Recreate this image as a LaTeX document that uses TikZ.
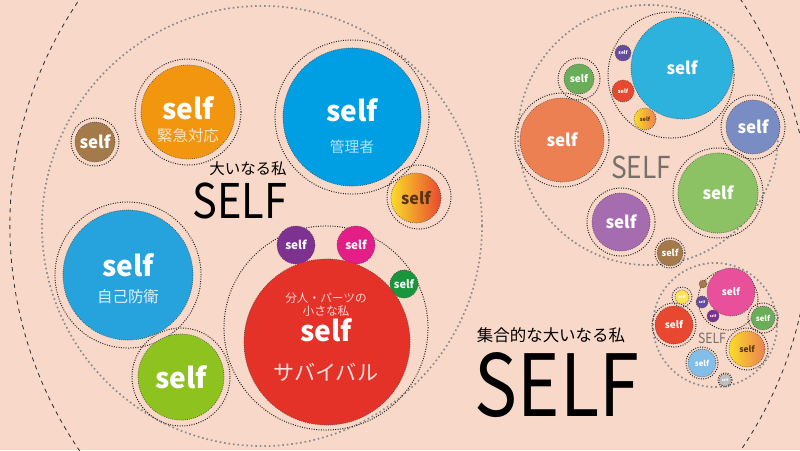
\documentclass[tikz,border=0pt]{standalone}
\usepackage{fontspec}
\setmainfont{Noto Sans CJK JP}
\usetikzlibrary{positioning}
\definecolor{bgpeach}{RGB}{248,216,200}
\definecolor{selfbrown}{RGB}{164,122,74}
\definecolor{selforange}{RGB}{242,150,15}
\definecolor{selfblue}{RGB}{0,158,226}
\definecolor{selfsky}{RGB}{38,163,220}
\definecolor{selfgreen}{RGB}{142,194,31}
\definecolor{selfred}{RGB}{228,50,40}
\definecolor{selfpurple}{RGB}{125,50,145}
\definecolor{selfpink}{RGB}{228,30,135}
\definecolor{selfdkgreen}{RGB}{25,150,60}
\definecolor{selfcyan}{RGB}{45,178,222}
\definecolor{selfcoral}{RGB}{236,128,82}
\definecolor{selfslate}{RGB}{122,140,196}
\definecolor{selfleaf}{RGB}{140,194,100}
\definecolor{selflilac}{RGB}{166,108,176}
\definecolor{selfmoss}{RGB}{106,174,90}
\definecolor{selfviolet}{RGB}{100,76,158}
\definecolor{selftomato}{RGB}{232,72,48}
\definecolor{selfrose}{RGB}{233,80,155}
\definecolor{selfbaby}{RGB}{130,190,232}
\definecolor{selflemon}{RGB}{250,220,40}
\definecolor{selfsilver}{RGB}{190,190,190}
\definecolor{textgray}{RGB}{118,112,108}
\definecolor{darktext}{RGB}{90,50,20}

\begin{document}
\begin{tikzpicture}[x=0.025cm, y=-0.025cm,
    rad/.style={minimum size=#1*0.05cm},
    ball/.style={circle, draw=black!70, densely dotted, line width=0.5pt,
                 inner sep=0pt, outer sep=0pt, text=white},
    ring/.style={circle, draw=black!85, densely dotted, line width=0.7pt,
                 inner sep=0pt},
    groupring/.style={circle, draw=black!45, dotted, line width=1.2pt,
                 inner sep=0pt},
    fs/.style={inner sep=0pt, font=\bfseries\fontsize{#1}{#1}\selectfont},
    jp/.style={inner sep=0pt, font=\fontsize{#1}{#1}\selectfont}]

    % background
    \fill[bgpeach] (0,0) rectangle (800,450);
    \useasboundingbox (0,0) rectangle (800,450);
    \clip (0,0) rectangle (800,450);

    % outer rim
    \node[circle, draw=black!80, dashed, line width=0.6pt, rad=400] (rim) at (410,225) {};

    % group rings
    \node[groupring, rad=220] (bigself) at (262,226) {};
    \node[groupring, rad=130] (upself) at (648,135) {};
    \node[groupring, rad=62] (lowself) at (715,325) {};

    % left group: rings
    \node[ring, rad=24] at (95,142) {};
    \node[ring, rad=53] at (188,112) {};
    \node[ring, rad=77] at (352,117) {};
    \node[ring, rad=32] at (419,197) {};
    \node[ring, rad=73] at (128,275) {};
    \node[ring, rad=49] at (181,377) {};
    \node[ring, rad=102] (partsring) at (326,328) {};

    % left group: balls
    \node[ball, rad=20, fill=selfbrown, fs=12] (brown) at (95,142) {self};
    \node[ball, rad=47, fill=selforange] (urgent) at (188,112) {};
    \node[fs=20, text=white] (urgentself) at (188,108) {self};
    \node[jp=11, text=white!75!selforange] (urgentname) at (188,136) {緊急対応};
    \node[ball, rad=69, fill=selfblue] (manager) at (352,117) {};
    \node[fs=20, text=white] (managerself) at (352,110) {self};
    \node[jp=10.5, text=white!70!selfblue] (managername) at (352,147) {管理者};
    \node[ball, rad=25, left color=selflemon, right color=selftomato, fs=11.5,
          text=darktext] (spark) at (416,198) {self};
    \node[ball, rad=65, fill=selfsky] (guard) at (128,275) {};
    \node[fs=20, text=white] (guardself) at (128,265) {self};
    \node[jp=11, text=white!85!selfsky] (guardname) at (128,297) {自己防衛};
    \node[ball, rad=43, fill=selfgreen, fs=20] (green) at (181,377) {self};

    % parts
    \node[ball, rad=19, fill=selfpurple, fs=8.3] (partA) at (296,245) {self};
    \node[ball, rad=19, fill=selfpink, fs=8.3] (partB) at (356,245) {self};
    \node[ball, rad=14, fill=selfdkgreen, fs=7.8] (partC) at (404,284) {self};
    \node[ball, rad=83, fill=selfred] (survival) at (327,342) {};
    \node[jp=8.3, text=white!80!selfred] (partsname) at (326,298) {分人・パーツの};
    \node[jp=8.3, text=white!80!selfred] (smallme) at (326,311) {小さな私};
    \node[fs=20, text=white] (survivalself) at (326,330) {self};
    \node[jp=15, text=white!85!selfred] (survivalname) at (326,372) {サバイバル};

    % left titles
    \node[jp=11] (greatme) at (248,169) {大いなる私};
    \node[jp=34, xscale=0.87] (greatself) at (240,201) {SELF};

    % upper right group
    \node[ring, rad=63] (cyanring) at (671,75) {};
    \node[ring, rad=21] at (579,79) {};
    \node[ring, rad=47] at (562,140) {};
    \node[ring, rad=32] at (753,127) {};
    \node[ring, rad=45] at (718,193) {};
    \node[ring, rad=34] at (621,222) {};
    \node[ring, rad=15] at (670,253) {};
    \node[ball, rad=51, fill=selfcyan, fs=12] (cyan) at (682,68) {self};
    \node[ball, rad=8, fill=selfviolet, fs=3.5] (tinyA) at (623,53) {self};
    \node[ball, rad=11, fill=selftomato, fs=4] (tinyB) at (623,91) {self};
    \node[ball, rad=11, left color=selflemon, right color=selfcoral, fs=4,
          text=darktext] (tinyC) at (645,119) {self};
    \node[ball, rad=15, fill=selfmoss, fs=7] (moss) at (579,79) {self};
    \node[ball, rad=42, fill=selfcoral, fs=12] (coral) at (562,140) {self};
    \node[ball, rad=27, fill=selfslate, fs=12] (slate) at (753,127) {self};
    \node[ball, rad=40, fill=selfleaf, fs=12] (leaf) at (718,193) {self};
    \node[ball, rad=29, fill=selflilac, fs=12] (lilac) at (621,222) {self};
    \node[ball, rad=13, fill=selfbrown, fs=6.5] (brownB) at (670,253) {self};
    \node[jp=21.5, text=textgray, xscale=0.87] (upSELF) at (641,167) {SELF};

    % lower right group
    \node[ring, rad=30] (pinkring) at (728,300) {};
    \node[ring, rad=10] at (682,297) {};
    \node[ring, rad=22] at (674,325) {};
    \node[ring, rad=15] at (763,318) {};
    \node[ring, rad=21] at (747,349) {};
    \node[ring, rad=16] at (702,363) {};
    \node[ring, rad=7] at (725,380) {};
    \node[ball, rad=24, fill=selfrose, fs=7] (rose) at (731,292) {self};
    \node[ball, rad=4, fill=selfbrown] (dotA) at (703,284) {};
    \node[ball, rad=6, fill=selfviolet, fs=2.5] (dotB) at (702,302) {self};
    \node[ball, rad=6, fill=selfpurple, fs=2.5] (dotC) at (713,316) {self};
    \node[ball, rad=7, fill=selflemon!80!white, fs=3] (dotD) at (682,297) {self};
    \node[ball, rad=19, fill=selftomato, fs=7] (tomato) at (674,325) {self};
    \node[ball, rad=12, fill=selfmoss, fs=5.5] (mossB) at (763,318) {self};
    \node[ball, rad=18, left color=selflemon, right color=selfcoral, fs=6,
          text=darktext] (sparkB) at (747,349) {self};
    \node[ball, rad=14, fill=selfbaby, fs=5.5] (baby) at (702,363) {self};
    \node[ball, rad=6, fill=selfsilver, fs=2.5] (silver) at (725,380) {self};
    \node[jp=10, text=textgray, xscale=0.87] (lowSELF) at (712,338) {SELF};

    % collective title
    \node[jp=11.7] (collective) at (551,335) {集合的な大いなる私};
    \node[jp=61, xscale=0.84] (collSELF) at (557,385) {SELF};
\end{tikzpicture}
\end{document}
